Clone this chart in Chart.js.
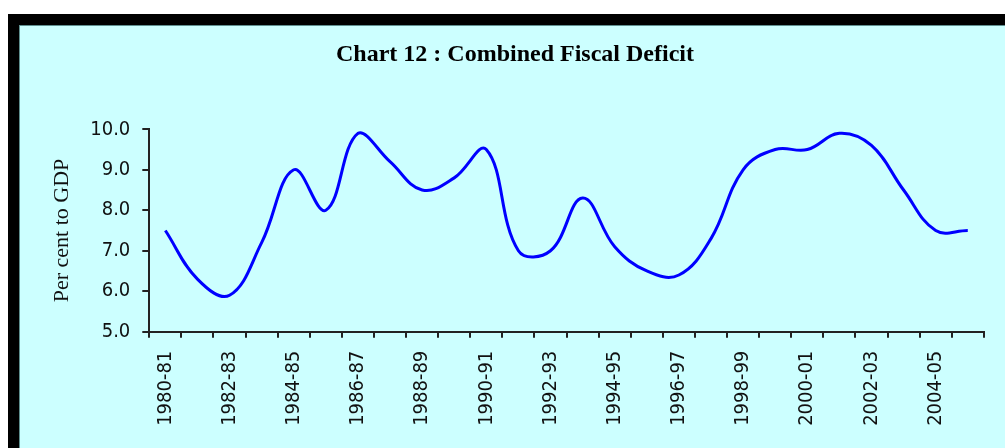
<!DOCTYPE html>
<html>
<head>
<meta charset="utf-8">
<script src="https://cdn.jsdelivr.net/npm/chart.js@4/dist/chart.umd.min.js"></script>
<style>
  html, body { margin: 0; padding: 0; background: #fff; width: 1005px; height: 448px; overflow: hidden; }
  .frame {
    position: absolute; left: 8px; top: 14px; width: 1020px; height: 460px;
    border-left: 11px solid #000; border-top: 11px solid #000;
    background: #ccffff; box-shadow: inset 1px 1px 0 #5f8f8f;
  }
  #wrap { position: absolute; left: 0; top: 0; width: 1005px; height: 448px; }
</style>
</head>
<body>
<div class="frame"></div>
<div id="wrap"><canvas id="chart" width="1005" height="448"></canvas></div>
<script>
// ---- data ----
const years = [
  '1980-81', '1981-82', '1982-83', '1983-84', '1984-85', '1985-86', '1986-87',
  '1987-88', '1988-89', '1989-90', '1990-91', '1991-92', '1992-93', '1993-94',
  '1994-95', '1995-96', '1996-97', '1997-98', '1998-99', '1999-00', '2000-01',
  '2001-02', '2002-03', '2003-04', '2004-05', '2005-06'
];
const deficit = [
  7.5, 6.3, 5.9, 7.2, 9.0, 8.0, 9.9,
  9.2, 8.5, 8.8, 9.5, 7.0, 7.0, 8.3,
  7.1, 6.5, 6.4, 7.3, 9.0, 9.5, 9.5,
  9.9, 9.6, 8.5, 7.5, 7.5
];
const yTicks = [5, 6, 7, 8, 9, 10];

const tickFont = { family: "'DejaVu Sans Condensed', 'DejaVu Sans', sans-serif", size: 20 };
const axisColor = '#222';

new Chart(document.getElementById('chart').getContext('2d'), {
  type: 'line',
  data: {
    labels: years,
    datasets: [{
      data: deficit,
      borderColor: '#0000ff',
      borderWidth: 3,
      pointRadius: 0,
      tension: 0.4,
      fill: false
    }]
  },
  options: {
    responsive: false,
    animation: false,
    layout: { padding: { left: 37, right: 12, top: 0, bottom: 0 } },
    plugins: {
      legend: { display: false },
      tooltip: { enabled: false },
      title: {
        display: true,
        text: 'Chart 12 : Combined Fiscal Deficit',
        color: '#000',
        font: { family: "'Liberation Serif', serif", size: 24, weight: 'bold' },
        padding: { top: 40, bottom: 60.5 }
      }
    },
    scales: {
      x: {
        offset: true,
        grid: { offset: true, drawOnChartArea: false, drawTicks: true, tickLength: 6, color: axisColor, lineWidth: 2 },
        border: { color: axisColor, width: 2 },
        ticks: {
          autoSkip: false, minRotation: 90, maxRotation: 90, padding: 13,
          color: '#111', font: tickFont,
          callback: (v, i) => i % 2 === 0 ? years[i] : ''
        },
        afterFit: s => { s.height = 116.3; }
      },
      y: {
        min: yTicks[0],
        max: yTicks[yTicks.length - 1],
        afterBuildTicks: s => { s.ticks = yTicks.map(v => ({ value: v })); },
        grid: { drawOnChartArea: false, drawTicks: true, tickLength: 7, color: axisColor, lineWidth: 2 },
        border: { color: axisColor, width: 2 },
        ticks: { padding: 12, color: '#111', font: tickFont, callback: v => Number(v).toFixed(1) },
        title: {
          display: true, text: 'Per cent to GDP', color: '#111',
          font: { family: "'Liberation Serif', serif", size: 22 },
          padding: { top: 11.8, bottom: 0 }
        },
        afterFit: s => { s.width = 112.3; }
      }
    }
  }
});
</script>
</body>
</html>
